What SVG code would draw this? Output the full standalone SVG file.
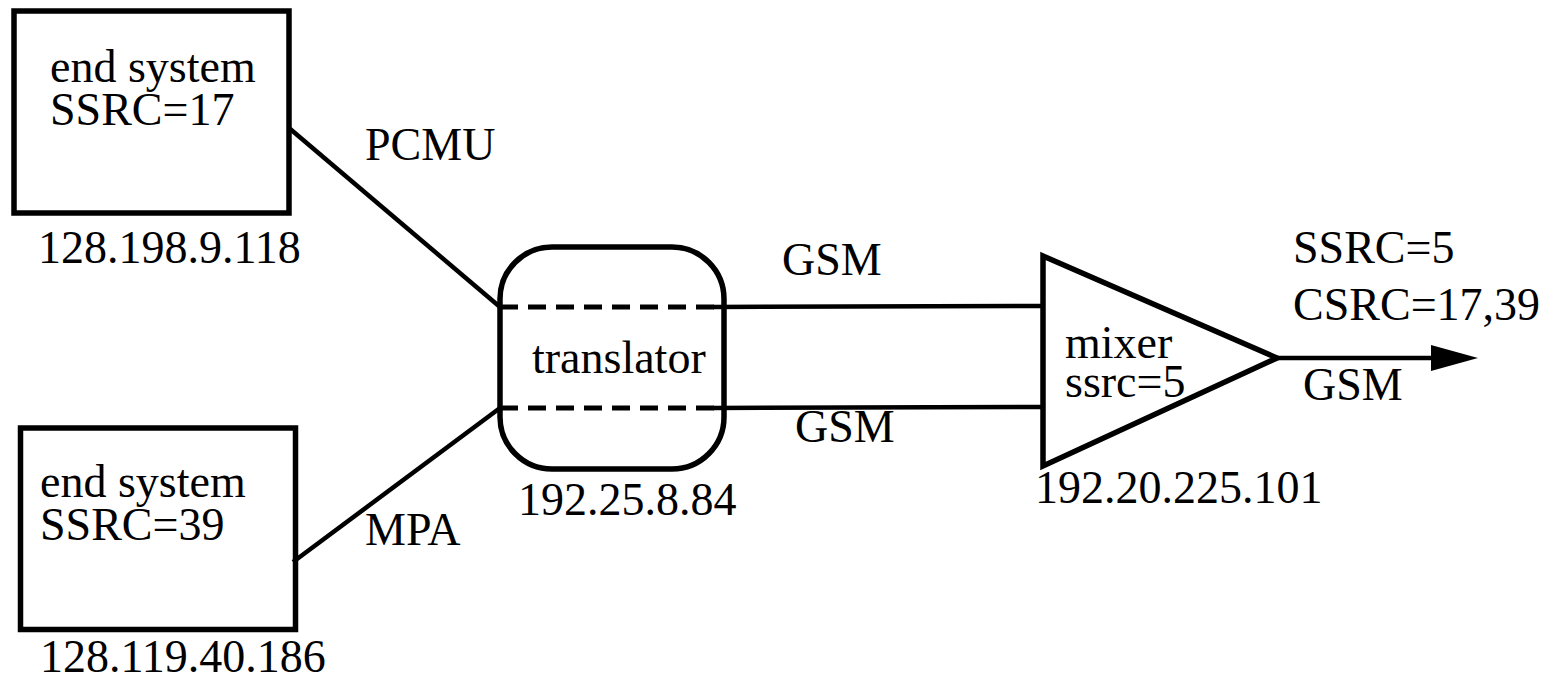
<svg xmlns="http://www.w3.org/2000/svg" width="1559" height="678" viewBox="0 0 1559 678">
  <style>
    text { font-family: "Liberation Serif", "Times New Roman", serif; font-size: 46px; fill: #000; }
    .shape { fill: none; stroke: #000; stroke-width: 5.5; }
    .wire { fill: none; stroke: #000; stroke-width: 4.5; }
    .dash { fill: none; stroke: #000; stroke-width: 5; stroke-dasharray: 18 10; }
    .head { fill: #000; stroke: none; }
  </style>
  <rect width="1559" height="678" fill="#fff"/>

  <!-- connectors -->
  <g id="connectors">
    <line class="wire" x1="289" y1="128" x2="500" y2="307"/>
    <line class="wire" x1="293" y1="562" x2="500" y2="408"/>
    <line class="wire" x1="713" y1="307" x2="1043" y2="306"/>
    <line class="wire" x1="713" y1="408" x2="1043" y2="407"/>
    <line class="wire" x1="1277" y1="358" x2="1434" y2="358"/>
    <polygon class="head" points="1431,345 1478,358 1431,371"/>
    <text x="365" y="160">PCMU</text>
    <text x="365" y="545">MPA</text>
    <text x="782" y="275">GSM</text>
    <text x="795" y="442">GSM</text>
    <text x="1303" y="400">GSM</text>
  </g>

  <!-- end system 17 -->
  <g id="end-system-17">
    <rect class="shape" x="14" y="11" width="275" height="202"/>
    <text x="50" y="82">end system</text>
    <text x="50" y="125">SSRC=17</text>
    <text x="38" y="263">128.198.9.118</text>
  </g>

  <!-- end system 39 -->
  <g id="end-system-39">
    <rect class="shape" x="20.5" y="428" width="275" height="201.5"/>
    <text x="40" y="497">end system</text>
    <text x="40" y="540">SSRC=39</text>
    <text x="40" y="672">128.119.40.186</text>
  </g>

  <!-- translator -->
  <g id="translator">
    <rect class="shape" x="500" y="247" width="224" height="222" rx="52" ry="52"/>
    <line class="dash" x1="500" y1="307" x2="724" y2="307"/>
    <line class="dash" x1="500" y1="408" x2="724" y2="408"/>
    <text x="532" y="373">translator</text>
    <text x="518" y="515">192.25.8.84</text>
  </g>

  <!-- mixer -->
  <g id="mixer">
    <polygon class="shape" points="1043,256 1277,358 1043,466"/>
    <text x="1065" y="358">mixer</text>
    <text x="1065" y="397">ssrc=5</text>
    <text x="1035" y="503">192.20.225.101</text>
  </g>

  <!-- mixer output stream -->
  <g id="output-label">
    <text x="1293" y="263">SSRC=5</text>
    <text x="1293" y="320">CSRC=17,39</text>
  </g>
</svg>
